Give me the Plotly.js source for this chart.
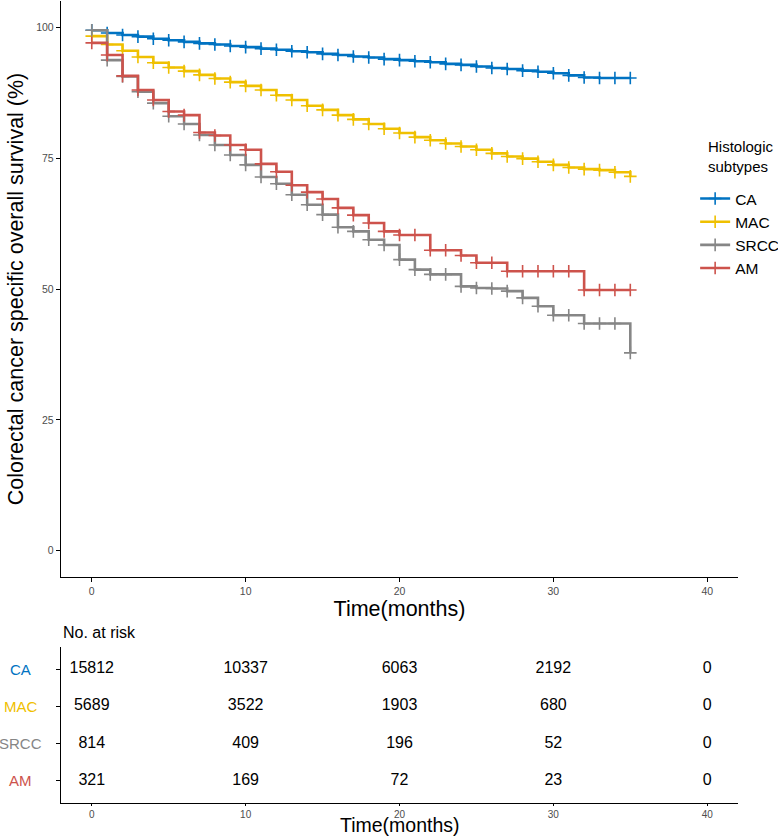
<!DOCTYPE html>
<html>
<head>
<meta charset="utf-8">
<script src="https://cdn.plot.ly/plotly-3.0.1.min.js"></script>
<style>html,body{margin:0;padding:0;background:#fff;}#chart{width:778px;height:837px;}</style>
</head>
<body>
<div id="chart"></div>
<script>
// ---- data ----
var months = [0,1,2,3,4,5,6,7,8,9,10,11,12,13,14,15,16,17,18,19,20,21,22,23,24,25,26,27,28,29,30,31,32,33,34,35];
var survCA   = [99.4,98.9,98.5,98.2,97.8,97.5,97.2,96.9,96.7,96.4,96.2,95.9,95.7,95.4,95.2,94.9,94.7,94.4,94.2,93.9,93.7,93.5,93.3,93.0,92.8,92.5,92.2,92.0,91.7,91.5,91.2,90.8,90.4,90.3,90.3,90.3];
var survMAC  = [98.3,96.7,95.5,94.3,93.2,92.3,91.6,90.9,90.2,89.5,88.8,88.0,87.0,86.1,85.0,84.2,83.2,82.4,81.5,80.6,79.8,79.0,78.4,77.8,77.2,76.6,75.9,75.3,74.9,74.3,73.7,73.2,72.9,72.7,72.3,71.5];
var survSRCC = [99.4,93.7,90.6,87.7,85.5,83.0,81.5,79.4,77.5,75.6,73.7,71.4,70.1,68.0,66.1,64.2,61.8,61.0,59.4,58.4,55.6,53.7,52.8,52.8,50.5,50.2,50.1,49.6,48.3,46.7,45.0,45.0,43.4,43.4,43.4,37.8];
var survAM   = [97.0,94.7,90.7,88.0,86.1,83.9,83.2,79.9,79.3,77.5,76.6,73.9,72.4,69.8,68.5,67.2,65.5,64.1,62.6,61.0,60.3,60.3,57.4,57.4,56.4,55.0,55.0,53.4,53.4,53.4,53.4,53.4,49.8,49.8,49.8,49.8];

var groups = ['CA','MAC','SRCC','AM'];
var groupColors = ['#0073C2','#EFC000','#868686','#CD534C'];

var riskTimes = [0,10,20,30,40];
var riskCA   = [15812,10337,6063,2192,0];
var riskMAC  = [5689,3522,1903,680,0];
var riskSRCC = [814,409,196,52,0];
var riskAM   = [321,169,72,23,0];

var xTicks = [0,10,20,30,40];
var yTicks = [0,25,50,75,100];

// ---- build ----
var FONT = 'Liberation Sans, Arial, Helvetica, sans-serif';
var survData = [survCA, survMAC, survSRCC, survAM];
var riskData = [riskCA, riskMAC, riskSRCC, riskAM];

var traces = [];
groups.forEach(function(g, i){
  traces.push({
    type:'scatter', mode:'lines+markers', name:g,
    x: months, y: survData[i],
    xaxis:'x', yaxis:'y',
    line:{shape:'hv', color:groupColors[i], width:2.6},
    marker:{symbol:'cross-thin', size:9, color:groupColors[i], line:{color:groupColors[i], width:1.6}},
    hoverinfo:'x+y+name'
  });
});

var tx = [], ty = [], tt = [];
groups.forEach(function(g, i){
  riskTimes.forEach(function(t, j){
    tx.push(t); ty.push(g); tt.push(String(riskData[i][j]));
  });
});
traces.push({
  type:'scatter', mode:'text', x:tx, y:ty, text:tt,
  xaxis:'x2', yaxis:'y2', showlegend:false,
  textfont:{family:FONT, size:16, color:'#000'}, hoverinfo:'skip'
});

var tickLabelColor = '#4D4D4D';
var rowOrder = ['AM','SRCC','MAC','CA'];

var annotations = [{
  text:'No. at risk', xref:'paper', yref:'paper', x:0, y:0.2132,
  xanchor:'left', yanchor:'middle', showarrow:false,
  font:{family:FONT, size:16, color:'#000'}
},{
  text:'Histologic<br>subtypes', xref:'paper', yref:'paper', x:0.9527, y:0.8055,
  xanchor:'left', yanchor:'middle', align:'left', showarrow:false,
  font:{family:FONT, size:15, color:'#000'}
},{
  text:'Time(months)', xref:'paper', yref:'paper', x:0.5, y:-0.0424,
  xanchor:'center', yanchor:'bottom', showarrow:false, borderpad:0,
  font:{family:FONT, size:19.5, color:'#000'}
}];
groups.forEach(function(g, i){
  annotations.push({
    text:g, xref:'paper', yref:'y2', x:-0.0591, y:g,
    xanchor:'center', yanchor:'middle', showarrow:false,
    font:{family:FONT, size:15, color:groupColors[i]}
  });
});

var layout = {
  width:778, height:837,
  margin:{l:61, r:40, t:1, b:34, autoexpand:false},
  paper_bgcolor:'#fff', plot_bgcolor:'#fff',
  font:{family:FONT, color:'#000'},
  showlegend:true,
  legend:{
    xref:'container', yref:'container',
    x:0.8935, xanchor:'left', y:0.7826, yanchor:'top',
    bgcolor:'rgba(0,0,0,0)',
    font:{family:FONT, size:15.5, color:'#000'},
    itemwidth:30, tracegroupgap:0
  },
  xaxis:{
    domain:[0,1], range:[-2,42], anchor:'y',
    tickvals:xTicks, ticktext:xTicks.map(String),
    showline:true, linecolor:'#000', linewidth:1.2, mirror:false,
    ticks:'outside', ticklen:4, tickcolor:'#000', tickwidth:1,
    showgrid:false, zeroline:false,
    tickfont:{family:FONT, size:10.5, color:tickLabelColor},
    title:{text:'Time(months)', font:{family:FONT, size:21.5, color:'#000'}, standoff:0}
  },
  yaxis:{
    domain:[0.2818,1], range:[-5,105], anchor:'x',
    tickvals:yTicks, ticktext:yTicks.map(String),
    showline:true, linecolor:'#000', linewidth:1.2,
    ticks:'outside', ticklen:4, tickcolor:'#000', tickwidth:1,
    showgrid:false, zeroline:false,
    tickfont:{family:FONT, size:10.5, color:tickLabelColor},
    title:{text:'Colorectal cancer specific overall survival (%)', font:{family:FONT, size:21.5, color:'#000'}, standoff:6}
  },
  xaxis2:{
    domain:[0,1], range:[-2,42], anchor:'y2',
    tickvals:xTicks, ticktext:xTicks.map(String),
    showline:true, linecolor:'#000', linewidth:1.2,
    ticks:'outside', ticklen:2, tickcolor:'#000', tickwidth:1,
    showgrid:false, zeroline:false,
    tickfont:{family:FONT, size:10, color:tickLabelColor}
  },
  yaxis2:{
    domain:[0,0.1945], anchor:'x2', type:'category',
    categoryorder:'array', categoryarray:rowOrder,
    range:[-0.6,3.6],
    tickvals:rowOrder, showticklabels:false,
    showline:true, linecolor:'#000', linewidth:1.2,
    ticks:'outside', ticklen:4, tickcolor:'#000', tickwidth:1,
    showgrid:false, zeroline:false
  },
  annotations:annotations
};

Plotly.newPlot('chart', traces, layout, {displayModeBar:false, staticPlot:true});
</script>
</body>
</html>
